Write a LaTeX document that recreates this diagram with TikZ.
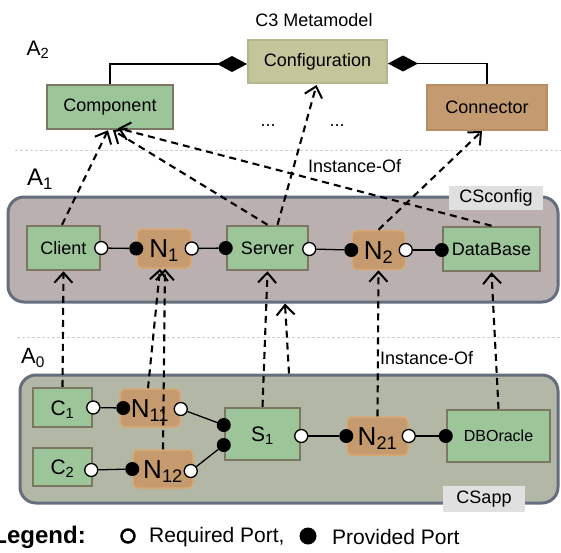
\documentclass[tikz,border=0pt]{standalone}
\usepackage{fontspec}
\setmainfont{Liberation Sans}
\usetikzlibrary{arrows.meta,calc,shapes.geometric}
\definecolor{gfill}{HTML}{9CC59A}
\definecolor{gedge}{HTML}{7B7762}
\definecolor{tfill}{HTML}{C59A6E}
\definecolor{tedge}{HTML}{D7A874}
\definecolor{cfill}{HTML}{C5C59C}
\definecolor{cedge}{HTML}{B5B58E}
\definecolor{kfill}{HTML}{C49A70}
\definecolor{kedge}{HTML}{B98C62}
\definecolor{slate}{HTML}{646E7E}
\definecolor{cfgfill}{HTML}{BAB0B0}
\definecolor{appfill}{HTML}{B3B8A6}
\definecolor{lblgray}{HTML}{E0E0E0}
\definecolor{sepgray}{HTML}{CFCFCF}
\newcommand{\fs}[1]{\fontsize{#1}{#1}\selectfont}
\tikzset{
  gbox/.style={draw=gedge, line width=2.5pt, fill=gfill, inner sep=0pt, font=\fs{18}},
  nbox/.style={draw=tedge, line width=1.5pt, fill=tfill, rounded corners=5pt, inner sep=0pt,
    font=\fs{26}, text height=18.6pt, text depth=0pt},
  cont/.style={draw=slate, line width=3pt, rounded corners=16pt, inner sep=0pt},
  clabel/.style={fill=lblgray, inner sep=0pt, font=\fs{18}},
  req/.style={circle, draw=black, fill=white, line width=1.3pt, minimum size=13pt, inner sep=0pt},
  prov/.style={circle, fill=black, minimum size=14pt, inner sep=0pt},
  plink/.style={line width=1.3pt},
  inst/.style={line width=2.1pt, dash pattern=on 7pt off 5pt, -{Straight Barb[length=10pt,width=18pt,line width=2pt]}},
  sep/.style={sepgray, line width=0.8pt, dash pattern=on 3pt off 2pt},
  agg/.style={line width=1.3pt, -{Diamond[length=30pt,width=16pt]}},
  txt/.style={inner sep=0pt, font=\fs{18}}
}
\begin{document}
\begin{tikzpicture}[x=1pt,y=-1pt]
\useasboundingbox (0,0) rectangle (561,552);
% separators
\coordinate (s1a) at (15,150); \coordinate (s1b) at (561,150);
\coordinate (s2a) at (17,337); \coordinate (s2b) at (561,337);
\draw[sep] (s1a) -- (s1b);
\draw[sep] (s2a) -- (s2b);
% level labels
\node[txt] (title) at (314,20) {C3 Metamodel};
\node[txt, font=\fs{21}] (a2) at (38,50) {A\textsubscript{2}};
\node[txt, font=\fs{24}] (a1) at (40,179) {A\textsubscript{1}};
\node[txt, font=\fs{22}] (a0) at (33,358) {A\textsubscript{0}};
% A2 metamodel
\node[draw=cedge, line width=2pt, fill=cfill, inner sep=0pt, font=\fs{18},
  minimum width=139pt, minimum height=43pt] (conf) at (317.5,61.5) {Configuration};
\node[gbox, minimum width=126pt, minimum height=44pt] (comp) at (110,107) {Component};
\node[draw=kedge, line width=2pt, fill=kfill, inner sep=0pt, font=\fs{18},
  minimum width=120pt, minimum height=45pt] (conn) at (487,107.5) {Connector};
\draw[agg] (comp.north) |- ([yshift=-2.5pt]conf.west);
\draw[agg] (conn.north) |- ([yshift=-2pt]conf.east);
\node[txt] (dots1) at (268,126) {...};
\node[txt] (dots2) at (337,126) {...};
% A1 CSconfig
\node[cont, fill=cfgfill, minimum width=550pt, minimum height=105pt] (cscfg) at (283,249.5) {};
\node[clabel, minimum width=94pt, minimum height=24pt] (lcfg) at (496,198) {CSconfig};
\node[gbox, minimum width=73pt, minimum height=44pt] (client) at (63.5,248) {Client};
\node[nbox, minimum width=54pt, minimum height=39pt] (n1) at (164,248.5) {N\textsubscript{1}};
\node[gbox, minimum width=81pt, minimum height=44pt] (server) at (267.5,248) {Server};
\node[nbox, minimum width=53pt, minimum height=39pt] (n2) at (378.5,250) {N\textsubscript{2}};
\node[gbox, minimum width=97pt, minimum height=44pt] (db) at (491.5,249) {DataBase};
\node[req] (pc) at (client.east) {};
\node[prov] (pn1a) at (n1.west) {};
\node[req] (pn1b) at (n1.east) {};
\node[prov] (psa) at (server.west) {};
\node[req] (psb) at ([yshift=-1pt]server.east) {};
\node[prov] (pn2a) at (n2.west) {};
\node[req] (pn2b) at (n2.east) {};
\node[prov] (pdb) at ([yshift=-1pt]db.west) {};
\draw[plink] (pc) -- (pn1a);
\draw[plink] (pn1b) -- (psa);
\draw[plink] (psb) -- (pn2a);
\draw[plink] (pn2b) -- (pdb);
% A0 CSapp
\node[cont, fill=appfill, minimum width=538pt, minimum height=128pt] (csapp) at (289,439) {};
\node[clabel, minimum width=82pt, minimum height=26pt] (lapp) at (484,499) {CSapp};
\node[gbox, font=\fs{21}, text height=15pt, text depth=0pt, minimum width=59pt, minimum height=39pt] (c1) at (62.5,407.5) {C\textsubscript{1}};
\node[gbox, font=\fs{21}, text height=15pt, text depth=0pt, minimum width=59pt, minimum height=38pt] (c2) at (62.5,467) {C\textsubscript{2}};
\node[nbox, minimum width=60pt, minimum height=38pt] (n11) at (150,408) {N\textsubscript{11}};
\node[nbox, minimum width=60pt, minimum height=38pt] (n12) at (163,469) {N\textsubscript{12}};
\node[gbox, font=\fs{21}, text height=15pt, text depth=0pt, minimum width=75pt, minimum height=52pt] (s1) at (262.5,434) {S\textsubscript{1}};
\node[nbox, minimum width=61pt, minimum height=38pt] (n21) at (377.5,436) {N\textsubscript{21}};
\node[gbox, font=\fs{16}, minimum width=103pt, minimum height=52pt] (dbo) at (498.5,436) {DBOracle};
\node[req] (pc1) at (c1.east) {};
\node[prov] (pn11a) at ([xshift=4pt]n11.west) {};
\node[req] (pn11b) at ([yshift=-1pt]n11.east) {};
\node[req] (pc2) at ([xshift=-2pt,yshift=-3pt]c2.east) {};
\node[prov] (pn12a) at (n12.west) {};
\node[req] (pn12b) at ([xshift=-3pt,yshift=-2pt]n12.east) {};
\node[prov] (ps1a) at ([yshift=9pt]s1.west) {};
\node[prov] (ps1b) at ([yshift=-11pt]s1.west) {};
\node[req] (ps1c) at ([yshift=-2pt]s1.east) {};
\node[prov] (pn21a) at (n21.west) {};
\node[req] (pn21b) at (n21.east) {};
\node[prov] (pdbo) at (dbo.west) {};
\draw[plink] (pc1) -- (pn11a);
\draw[plink] (pn11b) -- (ps1a);
\draw[plink] (pc2) -- (pn12a);
\draw[plink] (pn12b) -- (ps1b);
\draw[plink] (ps1c) -- (pn21a);
\draw[plink] (pn21b) -- (pdbo);
% instance-of arrows A1 -> A2
\draw[inst] ([xshift=-1.5pt]client.north) -- ([xshift=-2pt]comp.south);
\draw[inst] (server.north) -- ([xshift=3pt]comp.south);
\draw[inst] (db.north) -- ([xshift=8pt,yshift=2pt]comp.south);
\draw[inst] ([xshift=10pt]server.north) -- ([xshift=-1pt,yshift=-1pt]conf.south);
\draw[inst] (n2.north) -- ([xshift=-5pt]conn.south);
\node[txt, anchor=west] (io1) at (308,166) {Instance-Of};
% instance-of arrows A0 -> A1
\draw[inst] (c1.north) -- (client.south);
\draw[inst] ([xshift=-2pt]n11.north) -- ([xshift=-4pt]n1.south);
\draw[inst] (n12.north) -- ([xshift=1pt]n1.south);
\draw[inst] (s1.north) -- (server.south);
\draw[inst] (csapp.north) -- ([xshift=2pt]cscfg.south);
\draw[inst] (n21.north) -- (n2.south);
\draw[inst] (dbo.north) -- (db.south);
\node[txt, anchor=west] (io2) at (380,358) {Instance-Of};
% legend
\node[inner sep=0pt, anchor=east, font=\bfseries\fs{24}] (leg) at (86,537) {Legend:};
\node[circle, draw=black, fill=white, line width=2.5pt, minimum size=13pt, inner sep=0pt] (lreq) at (128,536) {};
\node[inner sep=0pt, anchor=west, font=\fs{21}] (lreqt) at (149,537) {Required Port,};
\node[circle, fill=black, minimum size=17pt, inner sep=0pt] (lprov) at (308,536) {};
\node[inner sep=0pt, anchor=west, font=\fs{21}] (lprovt) at (332,537) {Provided Port};
\end{tikzpicture}
\end{document}
